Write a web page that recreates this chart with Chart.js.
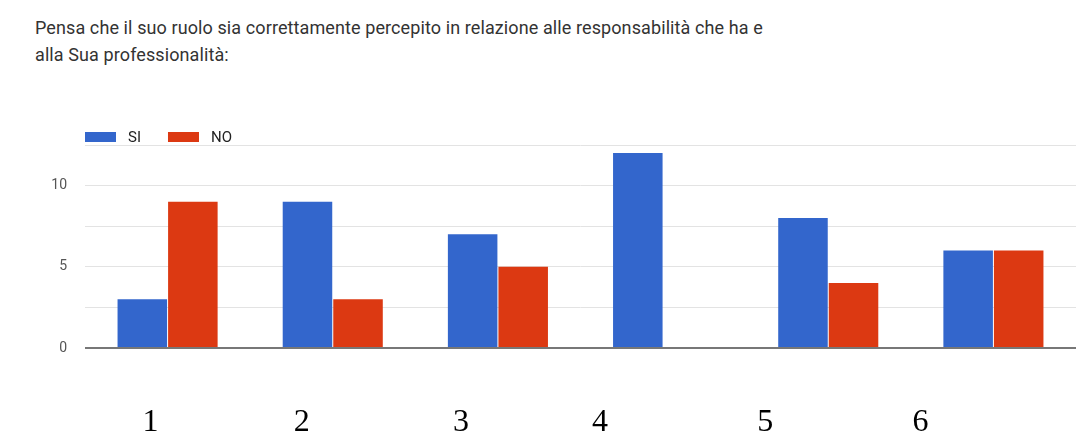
<!DOCTYPE html>
<html>
<head>
<meta charset="utf-8">
<script src="https://cdn.jsdelivr.net/npm/chart.js@4.4.1/dist/chart.umd.min.js"></script>
<style>
  html, body { margin: 0; padding: 0; background: #fff; }
  #wrap { position: relative; width: 1086px; height: 434px; }
  #title {
    position: absolute; left: 35px; top: 14px;
    font-family: Roboto, "Noto Sans", sans-serif; font-size: 18px;
    line-height: 27px; color: #333; letter-spacing: 0.1px;
  }
  canvas { position: absolute; left: 0; top: 0; }
</style>
</head>
<body>
<div id="wrap">
  <div id="title">Pensa che il suo ruolo sia correttamente percepito in relazione alle responsabilità che ha e<br>alla Sua professionalità:</div>
  <canvas id="chart" width="1086" height="434"></canvas>
</div>
<script>
var categories = ['1', '2', '3', '4', '5', '6'];
var siValues = [3, 9, 7, 12, 8, 6];
var noValues = [9, 3, 5, 0, 4, 6];
var yTicks = [0, 5, 10];

// the numbers under the chart were pasted in by hand, so they sit left of the groups
var labelShift = [-17, -31, -37, -63, -63, -73];

var legendPlugin = {
    id: 'topLegend',
    afterDraw: function(chart) {
        var ctx = chart.ctx;
        var x = chart.chartArea.left;
        var y = chart.chartArea.top - 8;
        ctx.save();
        ctx.font = '15px Roboto, sans-serif';
        ctx.textBaseline = 'middle';
        chart.data.datasets.forEach(function(ds) {
            ctx.fillStyle = ds.backgroundColor;
            ctx.fillRect(x, y - 5, 31, 10);
            ctx.fillStyle = '#222';
            ctx.fillText(ds.label, x + 43, y + 1);
            x += 43 + ctx.measureText(ds.label).width + 27;
        });
        ctx.restore();
    }
};

var xLabelPlugin = {
    id: 'pastedLabels',
    afterDraw: function(chart) {
        var ctx = chart.ctx;
        var xs = chart.scales.x;
        ctx.save();
        ctx.font = '32px "Liberation Serif", "Times New Roman", serif';
        ctx.fillStyle = '#000';
        ctx.textAlign = 'center';
        ctx.textBaseline = 'alphabetic';
        categories.forEach(function(c, i) {
            ctx.fillText(c, xs.getPixelForValue(i) + labelShift[i], 431);
        });
        ctx.restore();
    }
};

var ctx = document.getElementById('chart').getContext('2d');
new Chart(ctx, {
    type: 'bar',
    data: {
        labels: categories,
        datasets: [{
            label: 'SI',
            data: siValues,
            backgroundColor: '#3366cc'
        }, {
            label: 'NO',
            data: noValues,
            backgroundColor: '#dc3912'
        }]
    },
    options: {
        responsive: false,
        animation: false,
        layout: { padding: { top: 145, left: 35, right: 10, bottom: 86 } },
        categoryPercentage: 0.612,
        barPercentage: 0.98,
        plugins: {
            legend: { display: false },
            tooltip: { enabled: false }
        },
        scales: {
            x: { display: false },
            y: {
                min: 0,
                max: 12.5,
                afterFit: function(scale) { scale.width = 50; },
                border: { display: false },
                grid: {
                    drawTicks: false,
                    color: function(c) { return c.tick && c.tick.value === 0 ? '#777' : '#e3e3e3'; },
                    lineWidth: function(c) { return c.tick && c.tick.value === 0 ? 2 : 1; }
                },
                ticks: {
                    stepSize: 2.5,
                    padding: 18,
                    color: '#555',
                    font: { family: 'Roboto', size: 14 },
                    callback: function(v) { return yTicks.indexOf(v) >= 0 ? v : ''; }
                }
            }
        }
    },
    plugins: [legendPlugin, xLabelPlugin]
});
</script>
</body>
</html>
